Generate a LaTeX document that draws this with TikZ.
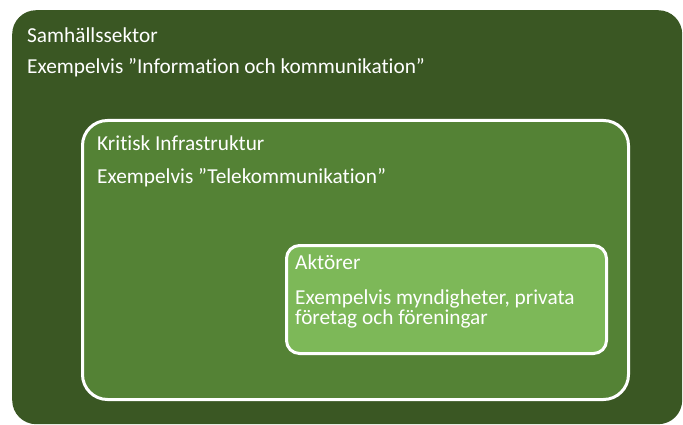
\documentclass[tikz,border=0pt]{standalone}
\usepackage{fontspec}
\setmainfont{Carlito}[Ligatures={NoCommon}]
\definecolor{outerg}{HTML}{3A5723}
\definecolor{midg}{HTML}{548235}
\definecolor{inng}{HTML}{7DB858}
\begin{document}
\begin{tikzpicture}[x=1pt,y=-1pt,
  lbl/.style={anchor=base west, text=white, inner sep=0pt, align=left,
    font=\fontsize{21.3}{20}\selectfont},
  boxbase/.style={anchor=north west, rectangle, inner sep=0pt}]
\useasboundingbox (0,0) rectangle (683,425);
\node[boxbase, fill=outerg, rounded corners=24pt, minimum width=670pt, minimum height=414pt] (outer) at (12,10) {};
\node[boxbase, fill=midg, draw=white, line width=3pt, rounded corners=25pt, minimum width=546pt, minimum height=279pt] (mid) at (81,119) {};
\node[boxbase, fill=inng, draw=white, line width=3pt, rounded corners=13pt, minimum width=320pt, minimum height=108pt] (inner) at (285,244) {};
\node[lbl] (t1) at (27,43) {Samhällssektor};
\node[lbl] (t2) at (27,74) {Exempelvis ”Information och kommunikation”};
\node[lbl] (t3) at (97,150) {Kritisk Infrastruktur};
\node[lbl] (t4) at (97,183) {Exempelvis ”Telekommunikation”};
\node[lbl] (t5) at (295,269) {Aktörer};
\node[lbl] (t6) at (295,324) {Exempelvis myndigheter, privata\\företag och föreningar};
\end{tikzpicture}
\end{document}
